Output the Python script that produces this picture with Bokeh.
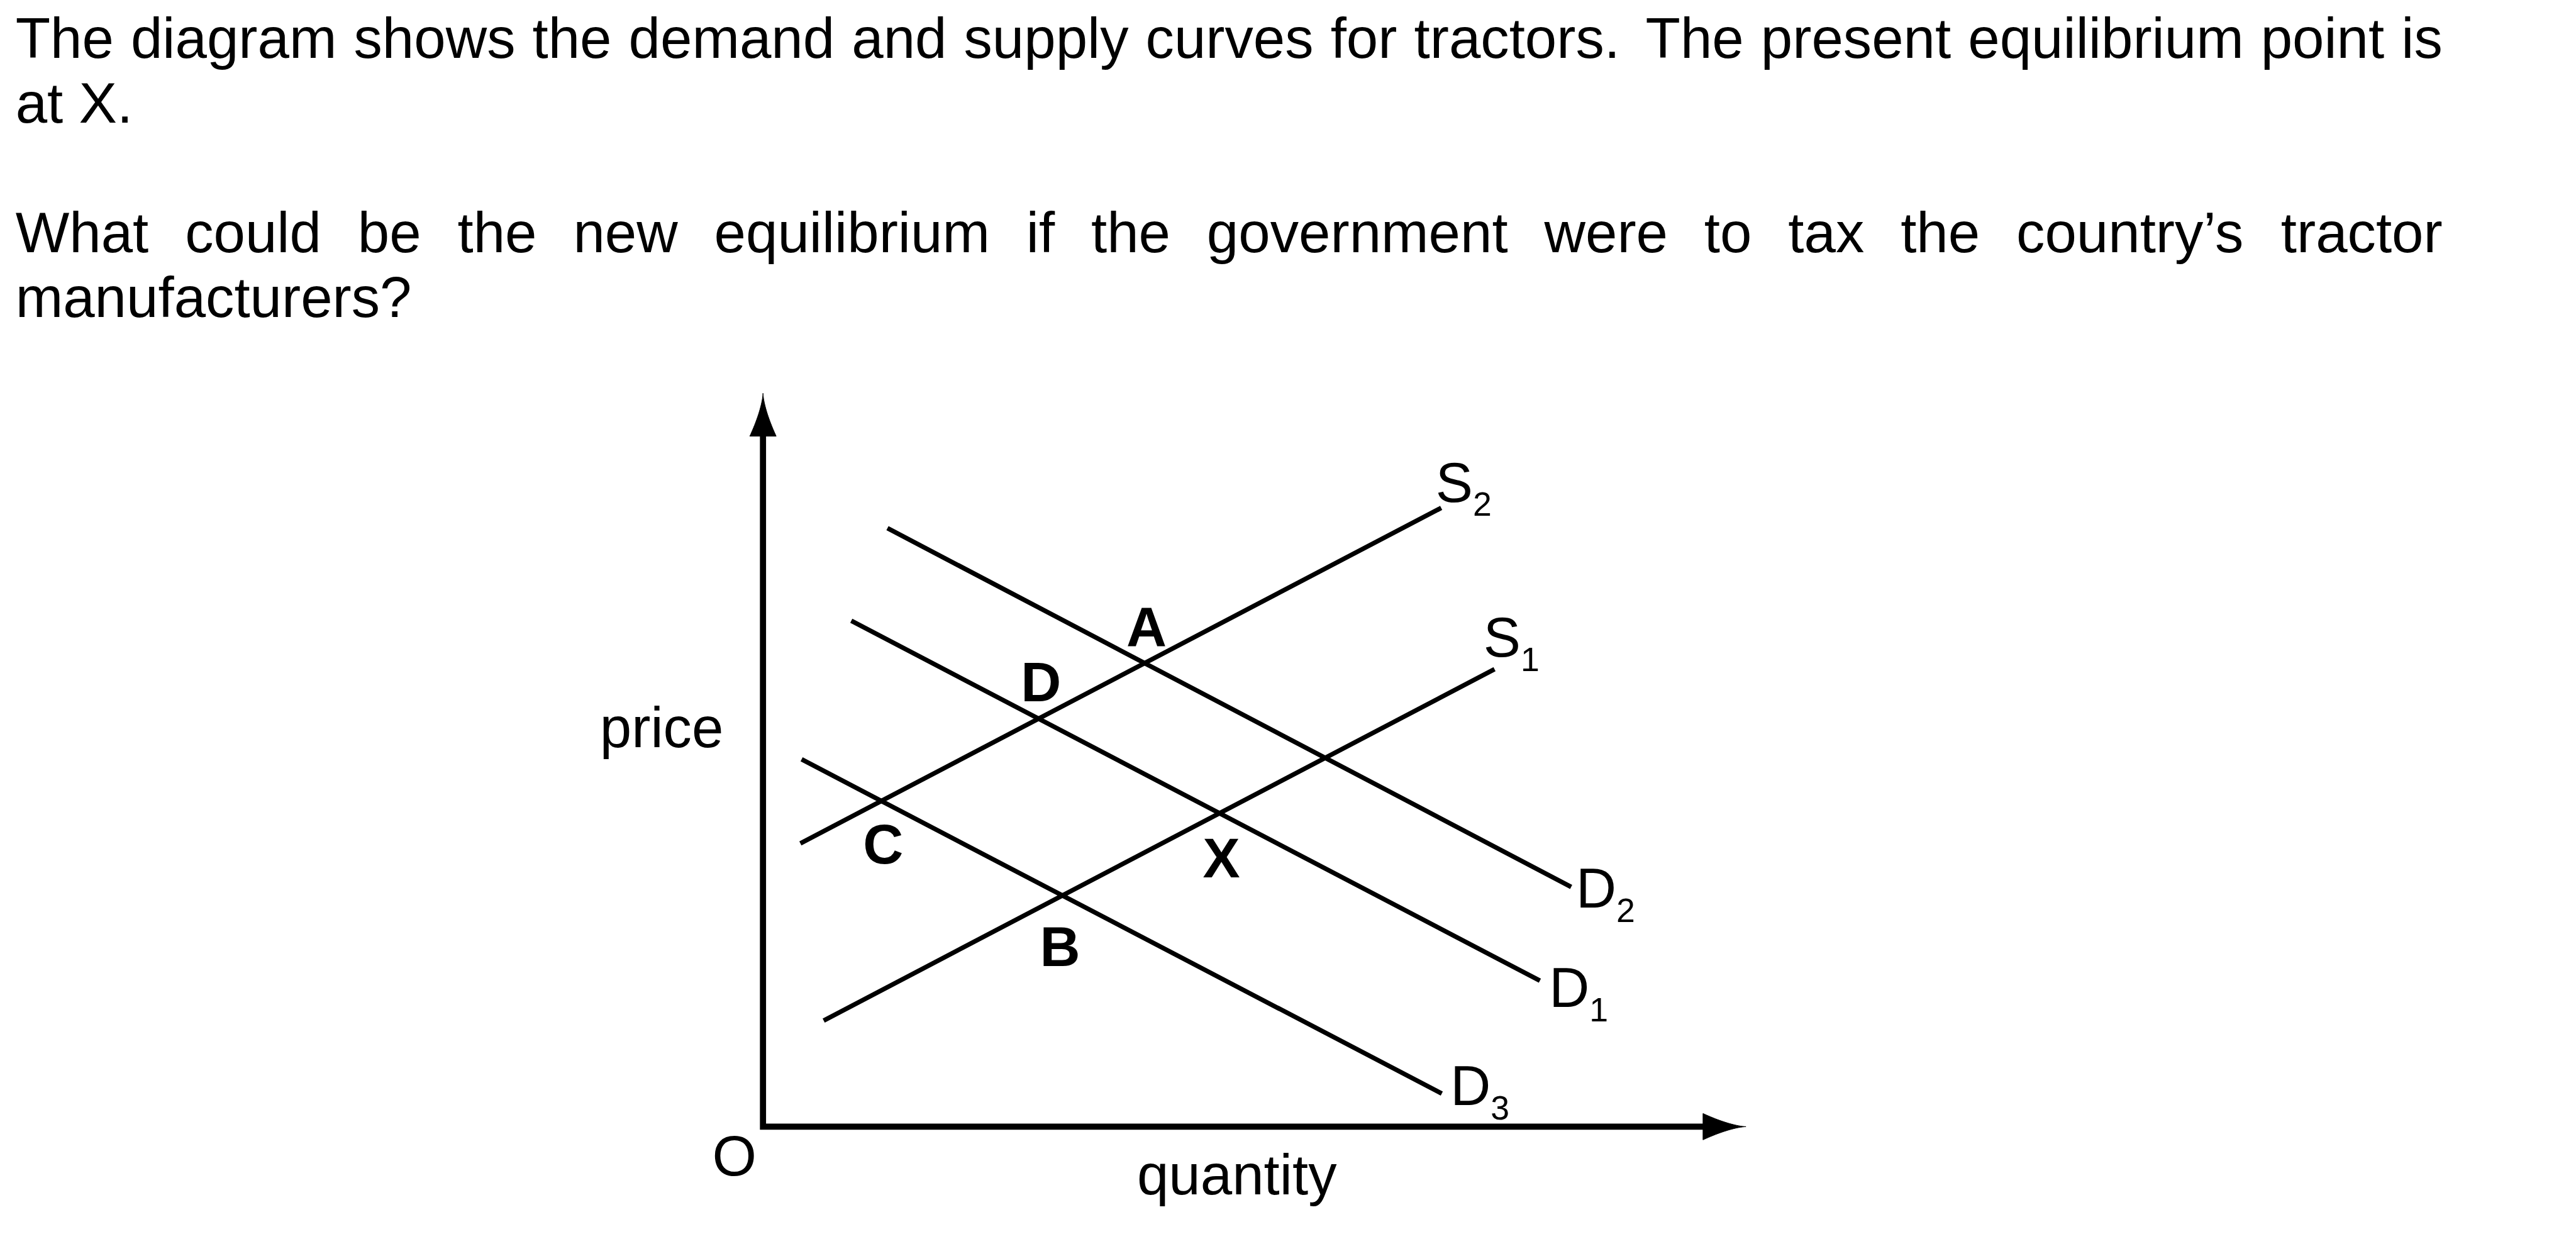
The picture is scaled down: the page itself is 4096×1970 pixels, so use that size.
from bokeh.plotting import figure
from bokeh.models import Range1d
from bokeh.embed import file_html
from bokeh.resources import INLINE
from bokeh.core.properties import value

# ---------------- data (chart units: quantity, price) ----------------
s1_quantity = [9.9, 119.3]
s1_price = [17.3, 74.6]
s2_quantity = [6.1, 110.6]
s2_price = [46.2, 100.9]
d1_quantity = [14.4, 126.7]
d1_price = [82.5, 23.8]
d2_quantity = [20.3, 131.8]
d2_price = [97.6, 39.1]
d3_quantity = [6.3, 110.7]
d3_price = [59.9, 5.4]

quantity_axis_end = 160.3
price_axis_end = 119.6

curve_names = ["S2", "S1", "D2", "D1", "D3"]
curve_subscripts = ["2", "1", "2", "1", "3"]
point_labels = ["A", "D", "C", "X", "B"]
point_curves = [("S2", "D2"), ("S2", "D1"), ("S2", "D3"), ("S1", "D1"), ("S1", "D3")]

question_line1 = "The diagram shows the demand and supply curves for tractors. The present equilibrium point is"
question_line2 = "at X."
question_line3 = "What could be the new equilibrium if the government were to tax the country\u2019s tractor"
question_line4 = "manufacturers?"
x_label = "quantity"
y_label = "price"
origin_label = "O"

# ---------------- layout ----------------
K = 0.975
MARGIN = 8
W, H = 4080, 1954
OX, OY = 1252.0, 1845.0
UNIT = 10.0
FONT = "Liberation Sans"
BASE_FIX = 0.29  # em, renderer baseline compensation


def rx(px):
    return (px - OX) / UNIT


def ry(py, size=0.0):
    return (OY - py + BASE_FIX * size) / UNIT


def fs(px):
    return value("%.2fpx" % (px * K))


ARIAL = {" ": 278, "\u2019": 222, "?": 556, ".": 278, "T": 611, "W": 944, "X": 667,
         "S": 667, "D": 722,
         "a": 556, "b": 556, "c": 500, "d": 556, "e": 556, "f": 278, "g": 556,
         "h": 556, "i": 222, "l": 222, "m": 833, "n": 556, "o": 556, "p": 556,
         "q": 556, "r": 333, "s": 500, "t": 278, "u": 556, "v": 500, "w": 722,
         "x": 500, "y": 500}


def wwidth(word, size):
    return sum(ARIAL[c] for c in word) / 1000.0 * size


def justify(words, left, right, size, weights):
    total = sum(wwidth(w, size) for w in words)
    unit = (right - left - total) / float(sum(weights))
    xs, x = [], left
    for i, w in enumerate(words):
        xs.append(x)
        x += wwidth(w, size)
        if i < len(weights):
            x += unit * weights[i]
    return xs


curves = {
    "S1": (s1_quantity, s1_price),
    "S2": (s2_quantity, s2_price),
    "D1": (d1_quantity, d1_price),
    "D2": (d2_quantity, d2_price),
    "D3": (d3_quantity, d3_price),
}


def intersect(a, b):
    (x0, x1), (y0, y1) = curves[a]
    (u0, u1), (v0, v1) = curves[b]
    m1 = (y1 - y0) / (x1 - x0)
    m2 = (v1 - v0) / (u1 - u0)
    x = (v0 - y0 + m1 * x0 - m2 * u0) / (m1 - m2)
    return x, y0 + m1 * (x - x0)


p = figure(width=W, height=H,
           x_range=Range1d(rx(MARGIN / K), rx((W + MARGIN) / K)),
           y_range=Range1d(ry((H + MARGIN) / K), ry(MARGIN / K)),
           output_backend="svg", toolbar_location=None,
           x_axis_location=None, y_axis_location=None,
           min_border=0, title=None)
p.outline_line_color = None
p.grid.visible = False
p.background_fill_color = "white"
p.border_fill_color = "white"

# ---------------- question text ----------------
TS = 93.0
LEFT, RIGHT = 33.0, 3991.0
w1 = question_line1.split(" ")
g1 = [1.5 if w.endswith(".") else 1 for w in w1[:-1]]
x1 = justify(w1, LEFT, RIGHT, TS, g1)
w3 = question_line3.split(" ")
x3 = justify(w3, LEFT, RIGHT, TS, [1] * (len(w3) - 1))

txt_x = [rx(v) for v in x1] + [rx(LEFT)] + [rx(v) for v in x3] + [rx(LEFT)]
txt_y = ([ry(97, TS)] * len(w1) + [ry(202, TS)] + [ry(414, TS)] * len(w3)
         + [ry(519, TS)])
txt = w1 + [question_line2] + w3 + [question_line4]
p.text(x=txt_x, y=txt_y, text=txt, text_font=value(FONT), text_font_size=fs(TS),
       text_color="black", text_align="left", text_baseline="alphabetic")

# ---------------- axes ----------------
AL = 7.0
AHW = 2.15
p.line(x=[0, 0, quantity_axis_end - AL * 0.5], y=[price_axis_end - AL * 0.5, 0, 0],
       line_color="black", line_width=10 * K, line_join="miter")


def arrow(tip_x, tip_y, dx, dy):
    nx, ny = -dy, dx
    n = 24
    left, right = [], []
    for i in range(n + 1):
        t = i / float(n)
        hw = AHW * (t ** 1.5)
        bx = tip_x - dx * AL * t
        by = tip_y - dy * AL * t
        left.append((bx + nx * hw, by + ny * hw))
        right.append((bx - nx * hw, by - ny * hw))
    pts = left + right[::-1]
    return [q[0] for q in pts], [q[1] for q in pts]


ax, ay = arrow(0, price_axis_end, 0, 1)
p.patch(ax, ay, fill_color="black", line_color="black", line_width=1)
bx, by = arrow(quantity_axis_end, 0, 1, 0)
p.patch(bx, by, fill_color="black", line_color="black", line_width=1)

# ---------------- curves ----------------
p.multi_line(xs=[curves[c][0] for c in curve_names], ys=[curves[c][1] for c in curve_names],
             line_color="black", line_width=7.5 * K)

# curve labels (offsets from line end, reference px)
end_off = {"S2": (-9, -15), "S1": (-18, -25), "D2": (8, 29), "D1": (15, 38), "D3": (14, 14)}
CS = 91.0
SS = 55.0
lx, ly, lt, sx, sy, st = [], [], [], [], [], []
for c, sub in zip(curve_names, curve_subscripts):
    qx, py = curves[c][0][-1], curves[c][1][-1]
    ox, oy = end_off[c]
    mx = qx + ox / UNIT
    my = py - oy / UNIT
    lx.append(mx)
    ly.append(my + BASE_FIX * CS / UNIT)
    lt.append(c[0])
    sx.append(mx + wwidth(c[0], CS) / UNIT)
    sy.append(my - 25 / UNIT + BASE_FIX * SS / UNIT)
    st.append(sub)
p.text(x=lx, y=ly, text=lt, text_font=value(FONT), text_font_size=fs(CS),
       text_color="black", text_align="left", text_baseline="alphabetic")
p.text(x=sx, y=sy, text=st, text_font=value(FONT), text_font_size=fs(SS),
       text_color="black", text_align="left", text_baseline="alphabetic")

# point labels
BS = 91.0
pt_off = {"A": (3, -32), "D": (4, -33), "C": (3, 97), "X": (3, 100), "B": (-4, 110)}
px_, py_ = [], []
for lab, (a, b) in zip(point_labels, point_curves):
    ix, iy = intersect(a, b)
    ox, oy = pt_off[lab]
    px_.append(ix + ox / UNIT)
    py_.append(iy - oy / UNIT + BASE_FIX * BS / UNIT)
p.text(x=px_, y=py_, text=point_labels, text_font=value(FONT), text_font_size=fs(BS),
       text_font_style="bold", text_color="black", text_align="center",
       text_baseline="alphabetic")

# axis labels
p.text(x=[rx(986)], y=[ry(1221, TS)], text=[y_label], text_font=value(FONT),
       text_font_size=fs(TS), text_color="black", text_align="left", text_baseline="alphabetic")
p.text(x=[rx(1862)], y=[ry(1950, TS)], text=[x_label], text_font=value(FONT),
       text_font_size=fs(TS), text_color="black", text_align="left", text_baseline="alphabetic")
p.text(x=[rx(1205.5)], y=[ry(1919, TS)], text=[origin_label], text_font=value(FONT),
       text_font_size=fs(TS), text_color="black", text_align="center", text_baseline="alphabetic")

open("out.html", "w").write(file_html(p, INLINE))
